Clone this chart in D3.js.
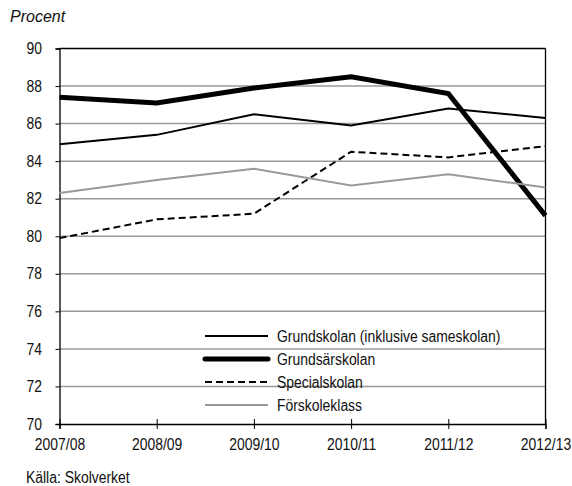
<!DOCTYPE html>
<html><head><meta charset="utf-8">
<script src="https://cdn.jsdelivr.net/npm/d3@7"></script>
<style>
body{margin:0;background:#fff;}
text{font-family:"Liberation Sans",Arial,sans-serif;fill:#111;}
</style></head>
<body>
<svg id="c" width="572" height="486"></svg>
<script>
const categories = ["2007/08","2008/09","2009/10","2010/11","2011/12","2012/13"];
const grundskolan = [84.9,85.4,86.5,85.9,86.8,86.3];
const grundsarskolan = [87.4,87.1,87.9,88.5,87.6,81.1];
const specialskolan = [79.9,80.9,81.2,84.5,84.2,84.8];
const forskoleklass = [82.3,83.0,83.6,82.7,83.3,82.6];
const yTicks = [70,72,74,76,78,80,82,84,86,88,90];
const seriesNames = ["Grundskolan (inklusive sameskolan)","Grundsärskolan","Specialskolan","Förskoleklass"];

const series = [
  {name:seriesNames[0], values:grundskolan, color:"#000", width:2, dash:null},
  {name:seriesNames[1], values:grundsarskolan, color:"#000", width:5, dash:null},
  {name:seriesNames[2], values:specialskolan, color:"#000", width:2, dash:"7,4"},
  {name:seriesNames[3], values:forskoleklass, color:"#999", width:2, dash:null}
];

const SX = 0.87;       // horizontal condensing of text
const FS = "16px";
const svg = d3.select("#c");
const L=59.5, R=545.5, T=48.5, B=424;
const x = d3.scalePoint().domain(categories).range([L,R]);
const y = d3.scaleLinear().domain([70,90]).range([B,T]);

svg.append("g").selectAll("line").data(yTicks.filter(v=>v>70 && v<90)).join("line")
  .attr("x1",L).attr("x2",R).attr("y1",d=>y(d)).attr("y2",d=>y(d))
  .attr("stroke","#999").attr("stroke-width",1.5);

svg.append("line").attr("x1",L).attr("x2",R).attr("y1",y(90)).attr("y2",y(90)).attr("stroke","#000").attr("stroke-width",1.3);
svg.append("line").attr("x1",R).attr("x2",R).attr("y1",y(90)).attr("y2",y(70)).attr("stroke","#000").attr("stroke-width",1.3);

const ya = svg.append("g").attr("transform",`translate(${L},0)`)
  .call(d3.axisLeft(y).tickValues(yTicks).tickSize(4).tickPadding(13).tickFormat(d3.format("d")));
ya.select(".domain").attr("stroke","#000").attr("stroke-width",1.3);
ya.selectAll(".tick line").attr("stroke","#000").attr("stroke-width",1);
ya.selectAll("text").style("font-size",FS).attr("fill","#111")
  .attr("x",-17.5/SX).attr("transform",`scale(${SX},1)`);

const xa = svg.append("g").attr("transform",`translate(0,${B})`)
  .call(d3.axisBottom(x).tickSize(5).tickPadding(10));
xa.select(".domain").attr("stroke","#000").attr("stroke-width",1.3);
xa.selectAll(".tick line").attr("y1",-5).attr("y2",5).attr("stroke","#000").attr("stroke-width",1);
xa.selectAll("text").style("font-size",FS).attr("fill","#111").attr("transform",`scale(${SX},1)`);

const line = d3.line().x((d,i)=>x(categories[i])).y(d=>y(d));
series.forEach(s=>{
  svg.append("path").datum(s.values).attr("d",line)
    .attr("fill","none").attr("stroke",s.color).attr("stroke-width",s.width)
    .attr("stroke-dasharray",s.dash).attr("stroke-linejoin","miter");
});

const lg = svg.append("g");
series.forEach((s,i)=>{
  const yy = 336 + i*23;
  lg.append("line").attr("x1",205).attr("x2",268).attr("y1",yy).attr("y2",yy)
    .attr("stroke",s.color).attr("stroke-width",s.width).attr("stroke-dasharray",s.dash)
    .attr("stroke-linecap", i===1 ? "round" : "butt");
  lg.append("text").attr("transform",`translate(277,${yy+6}) scale(${SX},1)`)
    .style("font-size",FS).text(s.name);
});

svg.append("text").attr("x",10).attr("y",22)
  .style("font-style","italic").style("font-size","16px").text("Procent");
svg.append("text").attr("transform",`translate(26,483) scale(${SX},1)`)
  .style("font-size",FS).text("Källa: Skolverket");
</script>
</body></html>
